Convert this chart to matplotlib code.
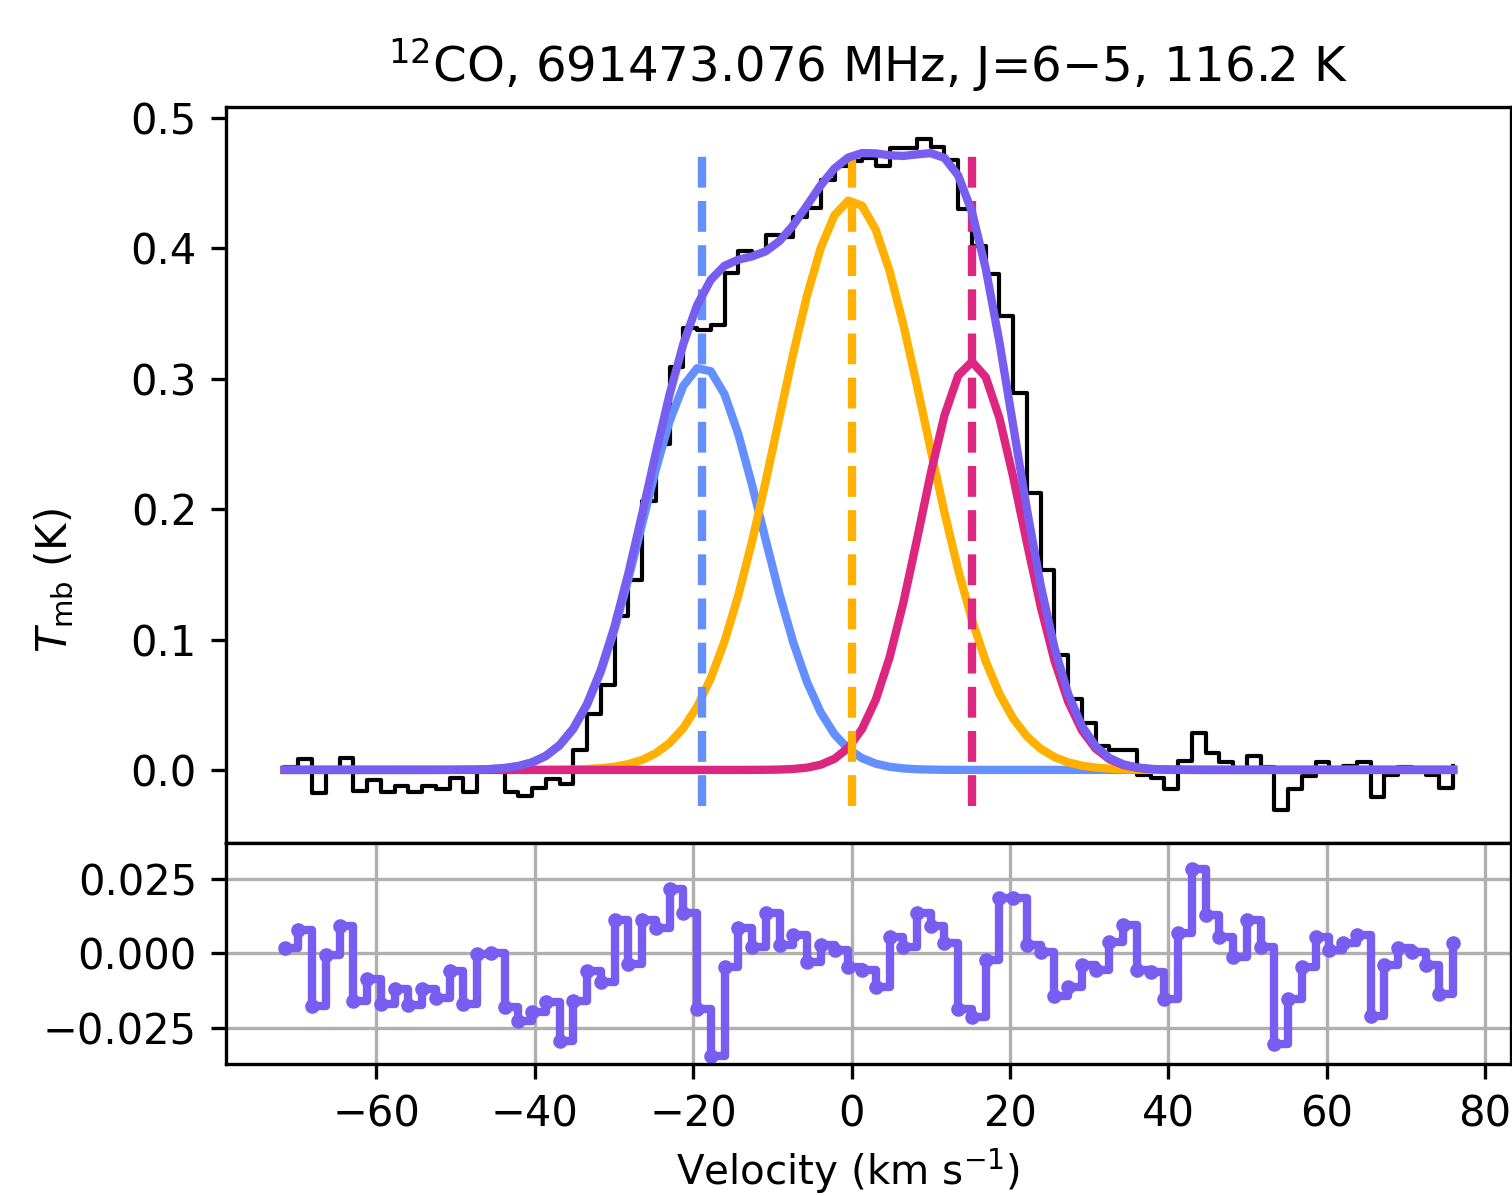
import numpy as np
import matplotlib.pyplot as plt

# channel axis (km/s): 86 channels
vel = np.linspace(-71.6, 75.96, 86)

# main-beam temperature per channel (K)
tmb = [0.002, 0.008, -0.018, -0.001, 0.009, -0.016, -0.008, -0.017, -0.012, -0.017,
       -0.012, -0.015, -0.006, -0.017, 0.001, 0.001, -0.017, -0.020, -0.014, -0.007,
       -0.011, 0.015, 0.043, 0.065, 0.118, 0.146, 0.206, 0.250, 0.309, 0.339,
       0.337, 0.341, 0.381, 0.398, 0.396, 0.410, 0.409, 0.424, 0.431, 0.452,
       0.463, 0.467, 0.469, 0.463, 0.477, 0.477, 0.484, 0.478, 0.468, 0.430,
       0.402, 0.380, 0.348, 0.289, 0.212, 0.153, 0.088, 0.054, 0.036, 0.018,
       0.015, 0.015, -0.004, -0.006, -0.015, 0.007, 0.028, 0.013, 0.006, -0.001,
       0.011, 0.002, -0.031, -0.015, -0.005, 0.006, 0.001, 0.003, 0.006, -0.021,
       -0.004, 0.002, 0.001, -0.004, -0.014, 0.003]

# fit residuals per channel (K)
resid = [0.0017, 0.0080, -0.0176, -0.0006, 0.0094, -0.0161, -0.0085, -0.0170, -0.0119, -0.0173,
         -0.0119, -0.0151, -0.0060, -0.0170, -0.0003, 0.0000, -0.0182, -0.0227, -0.0199, -0.0165,
         -0.0295, -0.0159, -0.0060, -0.0097, 0.0114, -0.0034, 0.0114, 0.0085, 0.0216, 0.0136,
         -0.0187, -0.0347, -0.0045, 0.0085, 0.0023, 0.0136, 0.0028, 0.0063, -0.0028, 0.0028,
         0.0011, -0.0045, -0.0057, -0.0114, 0.0057, 0.0023, 0.0136, 0.0091, 0.0034, -0.0187,
         -0.0216, -0.0023, 0.0188, 0.0188, 0.0028, 0.0006, -0.0145, -0.0114, -0.0040, -0.0057,
         0.0040, 0.0097, -0.0057, -0.0063, -0.0153, 0.0068, 0.0284, 0.0131, 0.0057, -0.0011,
         0.0114, 0.0023, -0.0307, -0.0153, -0.0045, 0.0057, 0.0011, 0.0034, 0.0063, -0.0210,
         -0.0040, 0.0017, 0.0006, -0.0040, -0.0136, 0.0034]

# gaussian components: amplitude (K), centre (km/s), sigma (km/s)
amps = [0.309, 0.437, 0.313]
cents = [-18.9, 0.0, 15.15]
sigmas = [7.6, 9.3, 6.45]
colours = ['#648FFF', '#FFB000', '#DC267F']
fit_colour = '#785EF0'

title = '$^{12}$CO, 691473.076 MHz, J=6\u22125, 116.2 K'

fig = plt.figure(figsize=(5.04, 3.9867), dpi=300)
ax1 = fig.add_axes([0.1495, 0.2952, 0.85, 0.6154])
ax2 = fig.add_axes([0.1495, 0.1104, 0.85, 0.1848], sharex=ax1)

ax1.step(vel, tmb, where='post', color='k', lw=1.0)

model = np.zeros_like(vel)
for a, c0, s, col in zip(amps, cents, sigmas, colours):
    g = a * np.exp(-0.5 * ((vel - c0) / s) ** 2)
    model += g
    ax1.plot(vel, g, color=col, lw=2)
for c0, col in zip(cents, colours):
    ax1.axvline(c0, ymin=0.05, ymax=0.95, color=col, ls='--', lw=2)
ax1.plot(vel, model, color=fit_colour, lw=2)

ax1.set_xlim(-79.0, 83.3)
ax1.set_ylim(-0.056, 0.5084)
ax1.tick_params(bottom=False, labelbottom=False)
ax1.set_title(title, fontsize=11.6)

ax2.plot(vel, resid, drawstyle='steps-post', marker='.', ms=5, color=fit_colour, lw=2)
ax2.set_ylim(-0.0373, 0.0373)
ax2.set_yticks([-0.025, 0.0, 0.025])
ax2.set_xticks([-60, -40, -20, 0, 20, 40, 60, 80])
ax2.grid(True)
ax2.set_xlabel('Velocity (km s$^{-1}$)', fontsize=9.7)
ax2.xaxis.set_label_coords(0.484, -0.375)

fig.text(0.036, 0.515, r'$T_{\rm mb}$ (K)', rotation=90, va='center', ha='center')

fig.savefig('out.png', dpi=300)
